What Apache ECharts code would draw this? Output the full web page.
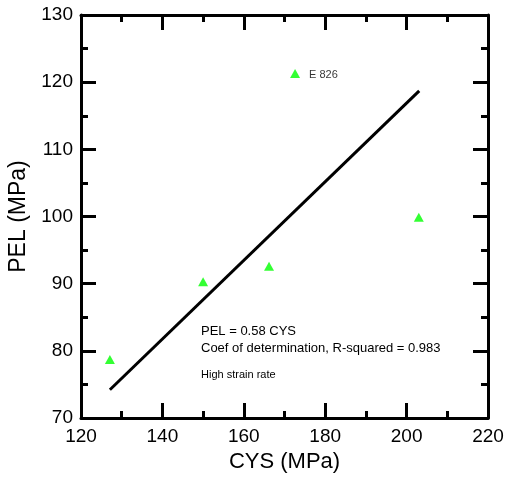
<!DOCTYPE html>
<html>
<head>
<meta charset="utf-8">
<script src="https://cdn.jsdelivr.net/npm/echarts@6/dist/echarts.min.js"></script>
<style>
  html, body { margin: 0; padding: 0; background: #fff; }
  #chart { width: 508px; height: 479px; }
</style>
</head>
<body>
<div id="chart"></div>
<script>
// measured points (CYS, PEL)
var cys = [127.1, 150.0, 166.2, 172.6, 203.0];
var pel = [78.7, 90.3, 92.6, 121.3, 99.9];
var pointLabels = ['', '', '', 'E 826', ''];
// fit line end points
var fitX = [127.1, 203.1];
var fitY = [74.2, 118.7];

var xTicks = [120, 140, 160, 180, 200, 220];
var yTicks = [70, 80, 90, 100, 110, 120, 130];

var font = 'Arial, "Liberation Sans", sans-serif';
var chart = echarts.init(document.getElementById('chart'));

function box(extra) {
  var a = {
    type: 'value',
    axisLine: { show: true, onZero: false, lineStyle: { color: '#000', width: 3 } },
    axisTick: { show: true, inside: true, length: 15, lineStyle: { color: '#000', width: 3 } },
    minorTick: { show: true, splitNumber: 2, length: 7, lineStyle: { color: '#000', width: 3 } },
    splitLine: { show: false },
    axisLabel: { show: false }
  };
  for (var k in extra) a[k] = extra[k];
  return a;
}

var scatterData = cys.map(function (x, i) {
  return { value: [x, pel[i]], label: { show: pointLabels[i] !== '', formatter: pointLabels[i] } };
});

chart.setOption({
  animation: false,
  grid: { left: 81, right: 20, top: 15, bottom: 61, containLabel: false, outerBoundsMode: 'none' },
  xAxis: [
    box({
      min: xTicks[0], max: xTicks[xTicks.length - 1], interval: 20,
      name: 'CYS (MPa)', nameLocation: 'middle', nameGap: 33,
      nameTextStyle: { fontFamily: font, fontSize: 22, color: '#000' },
      axisLabel: { show: true, fontFamily: font, fontSize: 19, color: '#000', margin: 9 }
    }),
    box({ position: 'top', min: 120, max: 220, interval: 20 })
  ],
  yAxis: [
    box({
      min: yTicks[0], max: yTicks[yTicks.length - 1], interval: 10,
      name: 'PEL (MPa)', nameLocation: 'middle', nameGap: 49,
      nameTextStyle: { fontFamily: font, fontSize: 23, color: '#000' },
      axisLabel: { show: true, fontFamily: font, fontSize: 19, color: '#000', margin: 8 }
    }),
    box({ position: 'right', min: 70, max: 130, interval: 10 })
  ],
  series: [
    {
      type: 'line',
      data: fitX.map(function (x, i) { return [x, fitY[i]]; }),
      showSymbol: false,
      symbol: 'none',
      lineStyle: { color: '#000', width: 3 },
      z: 2
    },
    {
      type: 'scatter',
      data: scatterData,
      symbol: 'triangle',
      symbolSize: [10, 9],
      itemStyle: { color: '#00ff00' },
      label: { position: 'right', distance: 9, offset: [0, 2], fontFamily: font, fontSize: 11, color: '#000' },
      z: 3
    }
  ],
  graphic: [
    { type: 'text', left: 201, top: 325, style: { text: 'PEL = 0.58 CYS', font: '13px ' + font, fill: '#000' } },
    { type: 'text', left: 201, top: 342, style: { text: 'Coef of determination, R-squared = 0.983', font: '13px ' + font, fill: '#000' } },
    { type: 'text', left: 201, top: 369, style: { text: 'High strain rate', font: '11px ' + font, fill: '#000' } }
  ]
});
</script>
</body>
</html>
